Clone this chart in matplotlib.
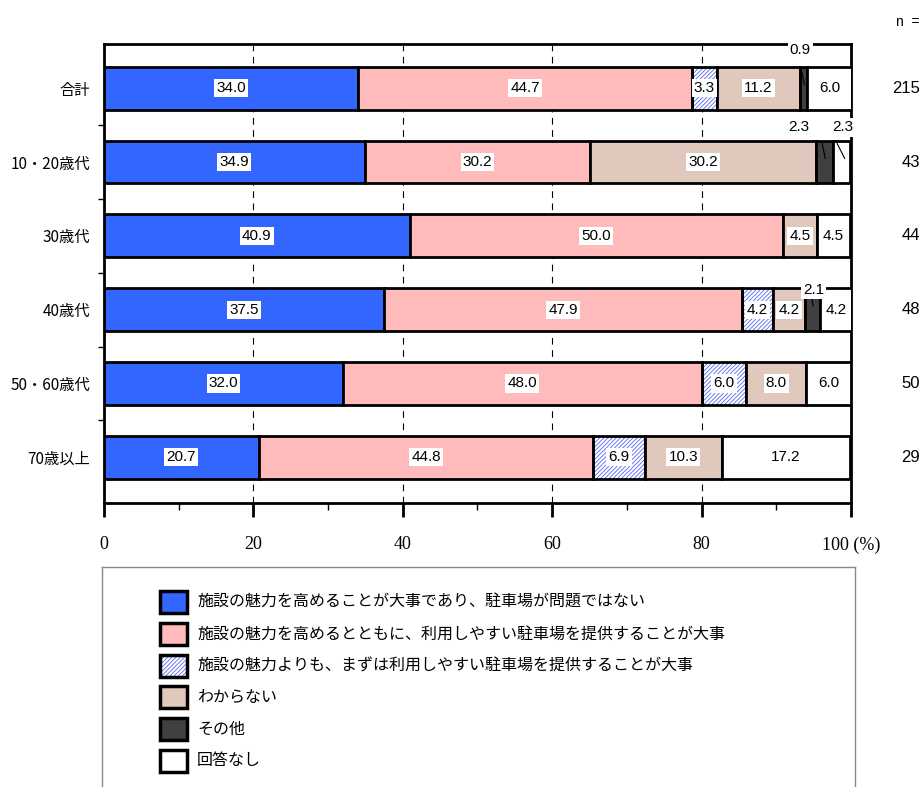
import matplotlib
matplotlib.use('Agg')
import matplotlib.pyplot as plt
from matplotlib.patches import Rectangle
import numpy as np

plt.rcParams['font.family'] = ['Noto Sans CJK JP', 'DejaVu Sans']
plt.rcParams['hatch.linewidth'] = 0.6

# ---- データ ----
categories = ['合計', '10・20歳代', '30歳代', '40歳代', '50・60歳代', '70歳以上']
n_values = [215, 43, 44, 48, 50, 29]
series_names = [
    '施設の魅力を高めることが大事であり、駐車場が問題ではない',
    '施設の魅力を高めるとともに、利用しやすい駐車場を提供することが大事',
    '施設の魅力よりも、まずは利用しやすい駐車場を提供することが大事',
    'わからない',
    'その他',
    '回答なし',
]
s_attract = [34.0, 34.9, 40.9, 37.5, 32.0, 20.7]
s_both = [44.7, 30.2, 50.0, 47.9, 48.0, 44.8]
s_parking = [3.3, 0.0, 0.0, 4.2, 6.0, 6.9]
s_unknown = [11.2, 30.2, 4.5, 4.2, 8.0, 10.3]
s_other = [0.9, 2.3, 0.0, 2.1, 0.0, 0.0]
s_none = [6.0, 2.3, 4.5, 4.2, 6.0, 17.2]
series = [s_attract, s_both, s_parking, s_unknown, s_other, s_none]

colors = ['#3366FF', '#FFBBBB', 'white', '#E0C8BC', '#404040', 'white']
HATCH_COLOR = '#5566EE'
HATCH = '////////'
NUM_FONT = 'Liberation Sans'

fig = plt.figure(figsize=(9.23, 7.87), dpi=100)
ax = fig.add_axes([104 / 923, 1 - 503 / 787, 747 / 923, 459 / 787])

y = np.arange(len(categories))
H = 0.58
left = np.zeros(len(categories))
for k, vals in enumerate(series):
    vals = np.array(vals)
    if k == 2:
        ax.barh(y, vals, H, left=left, color='white', edgecolor=HATCH_COLOR,
                hatch=HATCH, linewidth=0, zorder=2)
        ax.barh(y, vals, H, left=left, fill=False, edgecolor='black',
                linewidth=2, zorder=3)
    else:
        ax.barh(y, vals, H, left=left, color=colors[k], edgecolor='black',
                linewidth=2, zorder=3)
    for i, v in enumerate(vals):
        if v >= 3.0:
            ax.text(left[i] + v / 2, i, f'{v:.1f}', ha='center', va='center',
                    fontsize=11, family=NUM_FONT, zorder=5,
                    bbox=dict(facecolor='white', edgecolor='none', pad=1.5))
    left += vals

# 小さい値のラベル (引き出し線)
small_labels = [
    # (row, series, label x, label y)
    (0, 4, 93.2, -0.52),
    (1, 4, 93.0, 0.53),
    (1, 5, 98.9, 0.53),
    (3, 4, 95.0, 2.73),
]
for row, k, lx, ly in small_labels:
    start = sum(series[j][row] for j in range(k))
    v = series[k][row]
    cx = start + v / 2
    if k == 5:
        xs = [cx - 0.6, cx + 0.4]
    else:
        xs = [cx - 0.3, cx + 0.1]
    ax.plot(xs, [row - 0.25, row - 0.05], color='black', lw=0.8, zorder=6)
    ax.text(lx, ly, f'{v:.1f}', ha='center', va='center', fontsize=11,
            family=NUM_FONT, zorder=7,
            bbox=dict(facecolor='white', edgecolor='none', pad=1.5))

ax.set_xlim(0, 100)
ax.set_ylim(5.62, -0.6)
ax.set_yticks(y)
ax.set_yticklabels(categories, fontsize=11)
ax.set_yticks(np.arange(0.5, 5, 1), minor=True)
ax.tick_params(axis='y', which='major', length=0, pad=10)
ax.tick_params(axis='y', which='minor', length=4, width=1)

ax.set_xticks(np.arange(0, 101, 20))
ax.set_xticklabels(['0', '20', '40', '60', '80', '100 (%)'],
                   family='Liberation Serif', fontsize=13)
ax.set_xticks(np.arange(10, 100, 20), minor=True)
ax.tick_params(axis='x', which='major', length=10, width=2, pad=14)
ax.tick_params(axis='x', which='minor', length=5, width=1)
for x in (20, 40, 60, 80):
    ax.axvline(x, color='black', lw=0.8, ls=(0, (6, 5)), zorder=1)
for sp in ax.spines.values():
    sp.set_linewidth(2)

# n =
fig.text(919 / 923, 1 - 22 / 787, 'n  =', ha='right', va='center',
         fontsize=10, family=NUM_FONT)
for i, n in enumerate(n_values):
    ax.text(1.092, i, str(n), transform=ax.get_yaxis_transform(),
            ha='right', va='center', fontsize=12, family=NUM_FONT)

# ---- 凡例 ----
lg = fig.add_axes([102 / 923, 0, 753 / 923, (787 - 567) / 787])
lg.set_xlim(0, 753)
lg.set_ylim(220, 0)
lg.set_xticks([])
lg.set_yticks([])
for name, sp in lg.spines.items():
    sp.set_color('#888888')
    sp.set_linewidth(1)
lg.spines['bottom'].set_visible(False)
for k, name in enumerate(series_names):
    cy = 35 + 31.8 * k
    if k == 2:
        lg.add_patch(Rectangle((58, cy - 11), 27, 22, facecolor='white',
                               edgecolor=HATCH_COLOR, hatch=HATCH, lw=0))
        lg.add_patch(Rectangle((58, cy - 11), 27, 22, fill=False,
                               edgecolor='black', lw=2.5))
    else:
        lg.add_patch(Rectangle((58, cy - 11), 27, 22, facecolor=colors[k],
                               edgecolor='black', lw=2.5))
    lg.text(95, cy, name, ha='left', va='center', fontsize=11.5)

fig.savefig('out.png', dpi=100)
